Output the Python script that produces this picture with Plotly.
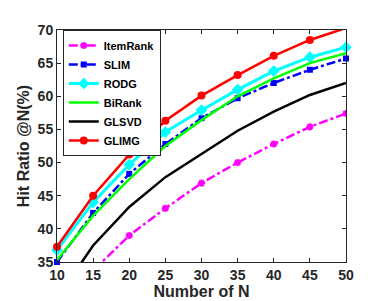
import plotly.graph_objects as go

N = [10, 15, 20, 25, 30, 35, 40, 45, 50]
itemrank = [28.0, 33.7, 39.0, 43.1, 46.9, 50.0, 52.8, 55.4, 57.4]
slim = [35.0, 42.4, 48.3, 52.8, 56.7, 59.7, 62.0, 64.0, 65.7]
rodg = [36.8, 44.0, 49.7, 54.6, 57.9, 61.0, 63.8, 65.9, 67.4]
birank = [35.3, 42.0, 47.5, 52.5, 56.4, 60.0, 62.7, 65.0, 66.5]
glsvd = [29.5, 37.5, 43.3, 47.8, 51.3, 54.8, 57.7, 60.2, 62.0]
glimg = [37.3, 45.0, 51.2, 56.3, 60.1, 63.2, 66.1, 68.5, 70.3]

font = "Liberation Sans, Arial, sans-serif"

fig = go.Figure()
fig.add_trace(go.Scatter(x=N, y=itemrank, name="ItemRank", mode="lines+markers",
                         line=dict(color="#ff00ff", width=2.5, dash="dashdot"),
                         marker=dict(symbol="asterisk-open", size=6, color="#ff00ff", line=dict(width=2, color="#ff00ff"))))
fig.add_trace(go.Scatter(x=N, y=slim, name="SLIM", mode="lines+markers",
                         line=dict(color="#0000ff", width=2.5, dash="dashdot"),
                         marker=dict(symbol="square", size=6, color="#0000ff")))
fig.add_trace(go.Scatter(x=N, y=rodg, name="RODG", mode="lines+markers",
                         line=dict(color="#00ffff", width=3),
                         marker=dict(symbol="diamond", size=9, color="#00ffff")))
fig.add_trace(go.Scatter(x=N, y=birank, name="BiRank", mode="lines",
                         line=dict(color="#00ff00", width=2.5)))
fig.add_trace(go.Scatter(x=N, y=glsvd, name="GLSVD", mode="lines",
                         line=dict(color="#000000", width=2.5)))
fig.add_trace(go.Scatter(x=N, y=glimg, name="GLIMG", mode="lines+markers",
                         line=dict(color="#ff0000", width=2.5),
                         marker=dict(symbol="circle", size=8, color="#ff0000")))

# markers inside range shown even on the axis edge; lines remain clipped
for tr, ys in zip(fig.data, [itemrank, slim, rodg, birank, glsvd, glimg]):
    tr.cliponaxis = False
fig.data[0].cliponaxis = True
fig.data[4].cliponaxis = True

axis_common = dict(showgrid=False, zeroline=False, showline=True, mirror="ticks",
                   linecolor="#262626", linewidth=1, ticks="inside", ticklen=4,
                   tickcolor="#262626",
                   tickfont=dict(family=font, size=14, color="#262626", weight="bold"))

fig.update_xaxes(range=[10, 50], tickvals=N, title=dict(text="Number of N", standoff=3,
                 font=dict(family=font, size=16, color="#262626", weight="bold")), **axis_common)
fig.update_yaxes(range=[35, 70], tickvals=[35, 40, 45, 50, 55, 60, 65, 70],
                 title=dict(text="Hit Ratio @N(%)", standoff=4,
                            font=dict(family=font, size=16, color="#262626", weight="bold")), **axis_common)

fig.update_layout(width=374, height=301, margin=dict(l=49, r=36, t=22, b=47),
                  plot_bgcolor="white", paper_bgcolor="white",
                  legend=dict(x=0.02, y=1.0, xanchor="left", yanchor="top",
                              bgcolor="white", bordercolor="#262626", borderwidth=1,
                              font=dict(family=font, size=11, color="#000000", weight="bold"),
                              tracegroupgap=0, itemwidth=30))

fig.write_html("out.html")
